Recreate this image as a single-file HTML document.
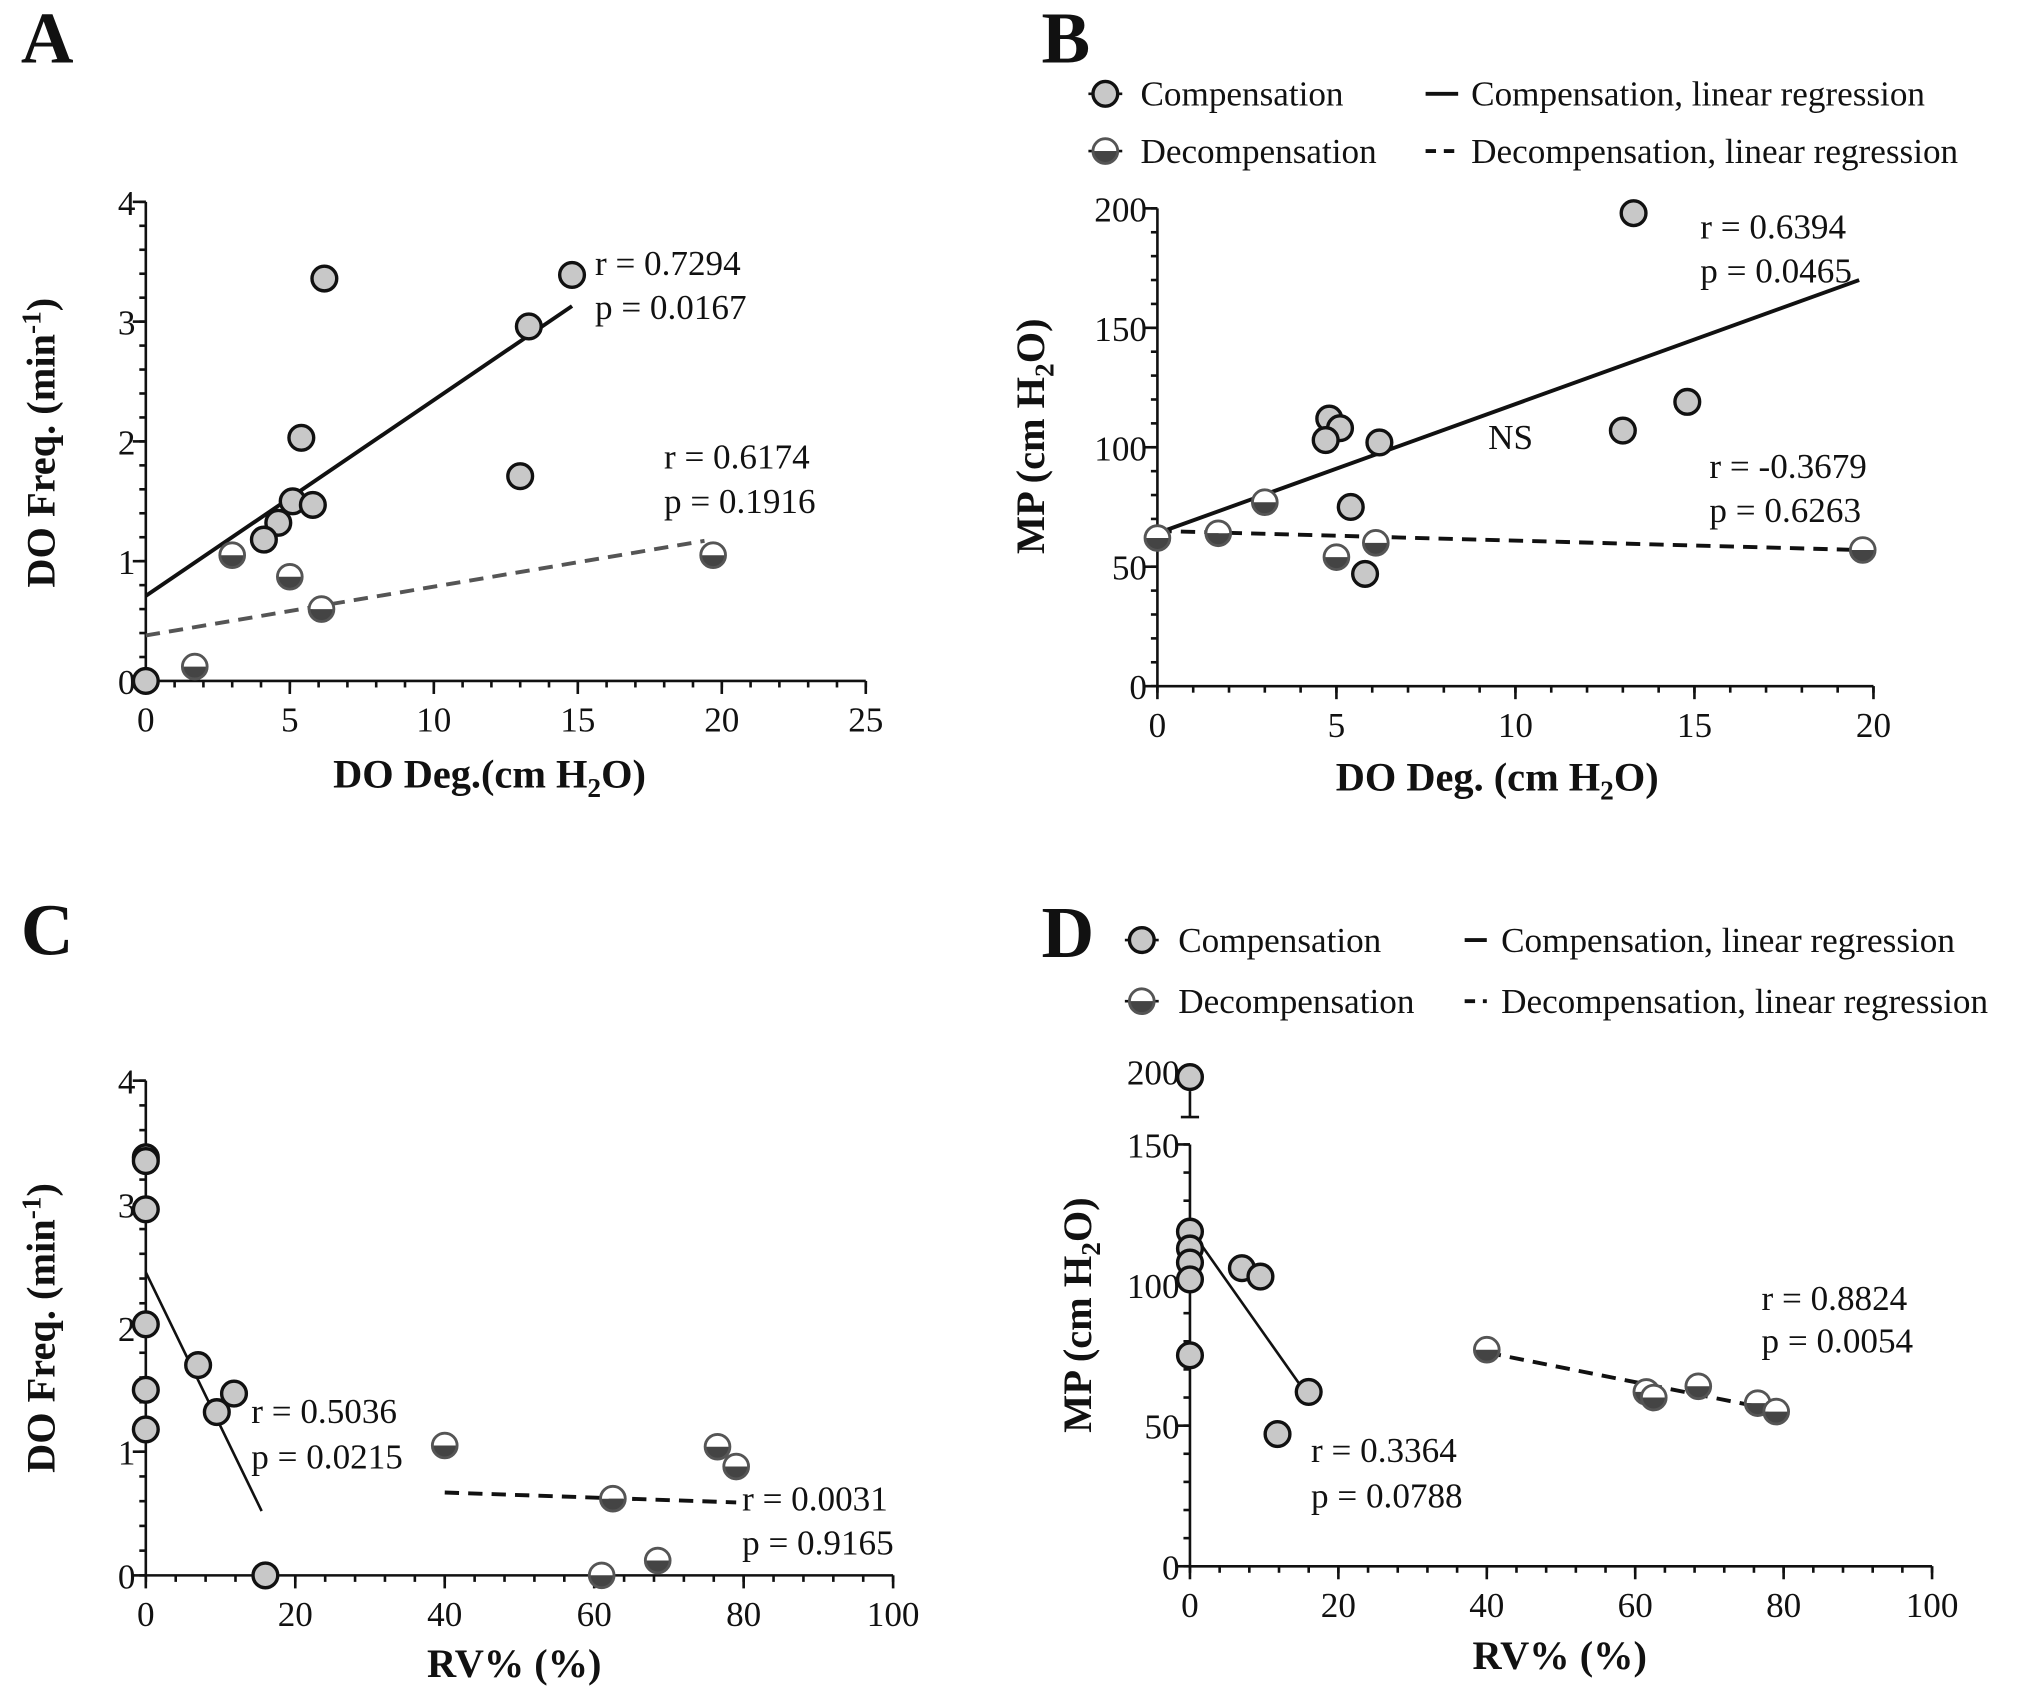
<!DOCTYPE html>
<html><head><meta charset="utf-8"><style>
html,body{margin:0;padding:0;background:#fff}
svg{display:block;font-family:"Liberation Serif",serif}
</style></head><body>
<svg id="fig" width="2031" height="1690" viewBox="0 0 1560 1298" xmlns="http://www.w3.org/2000/svg"></svg>
<script>
// ---- Panel A data ----
const aCompX=[6.2,14.8,13.3,5.4,13,5.1,5.8,4.6,4.1,0];
const aCompY=[3.36,3.39,2.96,2.03,1.71,1.5,1.47,1.32,1.18,0];
const aDecX=[3,5,6.1,1.7,19.7];
const aDecY=[1.05,0.87,0.6,0.12,1.05];
const aCompLine=[[0,0.71],[14.8,3.13]];
const aDecLine=[[0,0.38],[19.4,1.17]];
const aXTicks=[0,5,10,15,20,25];
const aYTicks=[0,1,2,3,4];
// ---- Panel B data ----
const bCompX=[13.3,4.8,5.1,4.7,6.2,13,14.8,5.4,5.8];
const bCompY=[198,112,108,103,102,107,119,75,47];
const bDecX=[0,1.7,3,5,6.1,19.7];
const bDecY=[62,64,77,54,60,57];
const bCompLine=[[0,64],[19.6,170]];
const bDecLine=[[0,65],[19.6,57]];
const bXTicks=[0,5,10,15,20];
const bYTicks=[0,50,100,150,200];
// ---- Panel C data ----
const cCompX=[0,0,0,0,0,0,7,9.5,11.8,16];
const cCompY=[3.38,3.35,2.96,2.03,1.5,1.18,1.7,1.32,1.47,0];
const cDecX=[40,62.5,61,68.5,76.5,79];
const cDecY=[1.05,0.62,0,0.12,1.04,0.88];
const cCompLine=[[0,2.45],[15.5,0.52]];
const cDecLine=[[40,0.67],[79,0.59]];
const cXTicks=[0,20,40,60,80,100];
const cYTicks=[0,1,2,3,4];
// ---- Panel D data ----
const dCompX=[0,0,0,0,0,0,7,9.5,16,11.8];
const dCompY=[195,119,113,108,102,75,106,103,62,47];
const dDecX=[40,61.5,62.5,68.5,76.5,79];
const dDecY=[77,62,60,64,58,55];
const dCompLine=[[0,120],[15.5,62]];
const dDecLine=[[40,76],[78,56]];
const dXTicks=[0,20,40,60,80,100];
const dYTicks=[0,50,100,150];

const NS='http://www.w3.org/2000/svg';
const svg=document.getElementById('fig');
function mk(tag,attrs,parent,txt){const e=document.createElementNS(NS,tag);for(const k in attrs)e.setAttribute(k,attrs[k]);if(txt!==undefined)e.textContent=txt;(parent||svg).appendChild(e);return e;}

function compMarker(g,x,y){
  const c=mk('circle',{cx:x,cy:y,r:9.5,fill:'#c8c8c8',stroke:'#111','stroke-width':2.6},g);
  
  
}
function decMarker(g,x,y){
  const r=9.5;
  const grp=mk('g',{},g);
  
  
  mk('path',{d:`M${x-r},${y} A${r},${r} 0 0 1 ${x+r},${y} Z`,fill:'#fff'},grp);
  mk('path',{d:`M${x-r},${y} A${r},${r} 0 0 0 ${x+r},${y} Z`,fill:'#444'},grp);
  mk('circle',{cx:x,cy:y,r:r,fill:'none',stroke:'#555','stroke-width':2.2},grp);
}

function panel(p){
  const g=mk('g',{});
  
  
  const sx=v=>p.x0+(v-p.xmin)/(p.xmax-p.xmin)*(p.x1-p.x0);
  const sy=v=>{ if(p.brk && v>p.brk.lo) return p.brk.yLo+(v-p.brk.lo)/(p.brk.hi-p.brk.lo)*(p.brk.yHi-p.brk.yLo); return p.y0+(v-p.ymin)/(p.ymax-p.ymin)*(p.y1-p.y0);};
  const ax=mk('g',{stroke:'#111','stroke-width':2,fill:'none'},g);
  
  
  mk('line',{x1:p.x0,y1:p.y0,x2:p.x1,y2:p.y0},ax);
  mk('line',{x1:p.x0,y1:p.y0,x2:p.x0,y2:p.y1},ax);
  for(let v=p.xmin; v<=p.xmax+1e-9; v+=p.xminor){mk('line',{x1:sx(v),y1:p.y0,x2:sx(v),y2:p.y0+5},ax);}
  p.xt.forEach(v=>{mk('line',{x1:sx(v),y1:p.y0,x2:sx(v),y2:p.y0+10},ax);
    const t=mk('text',{x:sx(v),y:p.y0+39,'text-anchor':'middle','font-size':27,fill:'#111',stroke:'none'},g,String(v));
    });
  for(let v=p.ymin; v<=p.ymax+1e-9; v+=p.yminor){mk('line',{x1:p.x0,y1:sy(v),x2:p.x0-5,y2:sy(v)},ax);}
  p.yt.forEach(v=>{mk('line',{x1:p.x0,y1:sy(v),x2:p.x0-10,y2:sy(v)},ax);
    const t=mk('text',{x:p.x0-8,y:sy(v)+10,'text-anchor':'end','font-size':27,fill:'#111',stroke:'none'},g,String(v));
    });
  if(p.brk){
    mk('line',{x1:p.x0,y1:p.brk.yTop,x2:p.x0,y2:p.brk.yCap},ax);
    mk('line',{x1:p.x0-7,y1:p.brk.yCap,x2:p.x0+7,y2:p.brk.yCap},ax);
    const t=mk('text',{x:p.x0-8,y:p.brk.yHi+10,'text-anchor':'end','font-size':27,fill:'#111'},g,'200');
    
  }
  const l1=mk('line',{x1:sx(p.cl[0][0]),y1:sy(p.cl[0][1]),x2:sx(p.cl[1][0]),y2:sy(p.cl[1][1]),stroke:'#111','stroke-width':p.clw},g);
  
  const l2=mk('line',{x1:sx(p.dl[0][0]),y1:sy(p.dl[0][1]),x2:sx(p.dl[1][0]),y2:sy(p.dl[1][1]),stroke:p.dcol,'stroke-width':3,'stroke-dasharray':'11 7'},g);
  
  p.cx.forEach((v,i)=>compMarker(g,sx(v),sy(p.cy[i])));
  p.dx.forEach((v,i)=>decMarker(g,sx(v),sy(p.dy[i])));
  p.ann.forEach(a=>{const t=mk('text',{x:a[0],y:a[1],'font-size':27,fill:'#111'},g,a[2]);});
  const L=mk('text',{x:p.letter[0],y:p.letter[1],'font-size':56,'font-weight':'bold',fill:'#111'},g,p.letter[2]);
  
  const xt=mk('text',{x:p.xlab[0],y:p.xlab[1],'text-anchor':'middle','font-size':31,'font-weight':'bold',fill:'#111'},g);
  xt.innerHTML=p.xlab[2];
  const yt=mk('text',{x:0,y:0,'text-anchor':'middle','font-size':31,'font-weight':'bold',fill:'#111',transform:`translate(${p.ylab[0]},${p.ylab[1]}) rotate(-90)`},g);
  yt.innerHTML=p.ylab[2];
  if(p.leg){
    const lg=mk('g',{},g);
    const [mx,tx,lx1,lx2,ltx,r1,r2]=p.leg;
    mk('line',{x1:mx-13,y1:r1,x2:mx+13,y2:r1,stroke:'#111','stroke-width':2},lg);compMarker(lg,mx,r1);
    mk('line',{x1:mx-13,y1:r2,x2:mx+13,y2:r2,stroke:'#111','stroke-width':2},lg);decMarker(lg,mx,r2);
    mk('text',{x:tx,y:r1+9,'font-size':27,fill:'#111'},lg,'Compensation');
    mk('text',{x:tx,y:r2+9,'font-size':27,fill:'#111'},lg,'Decompensation');
    mk('line',{x1:lx1,y1:r1,x2:lx2,y2:r1,stroke:'#111','stroke-width':3},lg);
    mk('line',{x1:lx1,y1:r2,x2:lx2,y2:r2,stroke:'#111','stroke-width':3,'stroke-dasharray':'8 6'},lg);
    mk('text',{x:ltx,y:r1+9,'font-size':27,fill:'#111'},lg,'Compensation, linear regression');
    mk('text',{x:ltx,y:r2+9,'font-size':27,fill:'#111'},lg,'Decompensation, linear regression');
  }
}
const h2o='(cm H<tspan font-size="21" dy="7">2</tspan><tspan dy="-7">O)</tspan>';
const minv='DO Freq. (min<tspan font-size="21" dy="-11">-1</tspan><tspan dy="11">)</tspan>';
panel({name:'panel-a',x0:112,x1:665,y0:523,y1:155,xmin:0,xmax:25,ymin:0,ymax:4,xminor:1,yminor:0.2,xt:aXTicks,yt:aYTicks,
  cx:aCompX,cy:aCompY,dx:aDecX,dy:aDecY,cl:aCompLine,dl:aDecLine,clw:3,dcol:'#555',
  ann:[[457,211,'r = 0.7294'],[457,245,'p = 0.0167'],[510,360,'r = 0.6174'],[510,394,'p = 0.1916']],
  letter:[16,48,'A'],xlab:[376,605,'DO Deg.'+h2o],ylab:[42,340,minv]});
panel({name:'panel-b',x0:889,x1:1439,y0:527,y1:160,xmin:0,xmax:20,ymin:0,ymax:200,xminor:1,yminor:10,xt:bXTicks,yt:bYTicks,
  cx:bCompX,cy:bCompY,dx:bDecX,dy:bDecY,cl:bCompLine,dl:bDecLine,clw:3,dcol:'#111',
  ann:[[1306,183,'r = 0.6394'],[1306,217,'p = 0.0465'],[1143,345,'NS'],[1313,367,'r = -0.3679'],[1313,401,'p = 0.6263']],
  letter:[800,48,'B'],xlab:[1150,607,'DO Deg. '+h2o],ylab:[802,335,'MP '+h2o],
  leg:[849,876,1095,1120,1130,72,116]});
panel({name:'panel-c',x0:112,x1:686,y0:1210,y1:830,xmin:0,xmax:100,ymin:0,ymax:4,xminor:4,yminor:0.2,xt:cXTicks,yt:cYTicks,
  cx:cCompX,cy:cCompY,dx:cDecX,dy:cDecY,cl:cCompLine,dl:cDecLine,clw:2,dcol:'#111',
  ann:[[193,1093,'r = 0.5036'],[193,1128,'p = 0.0215'],[570,1160,'r = 0.0031'],[570,1194,'p = 0.9165']],
  letter:[16,733,'C'],xlab:[395,1288,'RV% (%)'],ylab:[42,1020,minv]});
panel({name:'panel-d',x0:914,x1:1484,y0:1203,y1:879,xmin:0,xmax:100,ymin:0,ymax:150,xminor:4,yminor:10,xt:dXTicks,yt:dYTicks,
  brk:{lo:160,hi:200,yLo:857,yHi:823,yCap:858,yTop:838},
  cx:dCompX,cy:dCompY,dx:dDecX,dy:dDecY,cl:dCompLine,dl:dDecLine,clw:2,dcol:'#111',
  ann:[[1007,1123,'r = 0.3364'],[1007,1158,'p = 0.0788'],[1353,1006,'r = 0.8824'],[1353,1039,'p = 0.0054']],
  letter:[800,735,'D'],xlab:[1198,1282,'RV% (%)'],ylab:[838,1010,'MP '+h2o],
  leg:[877,905,1125,1142,1153,722,769]});
</script>
</body></html>
